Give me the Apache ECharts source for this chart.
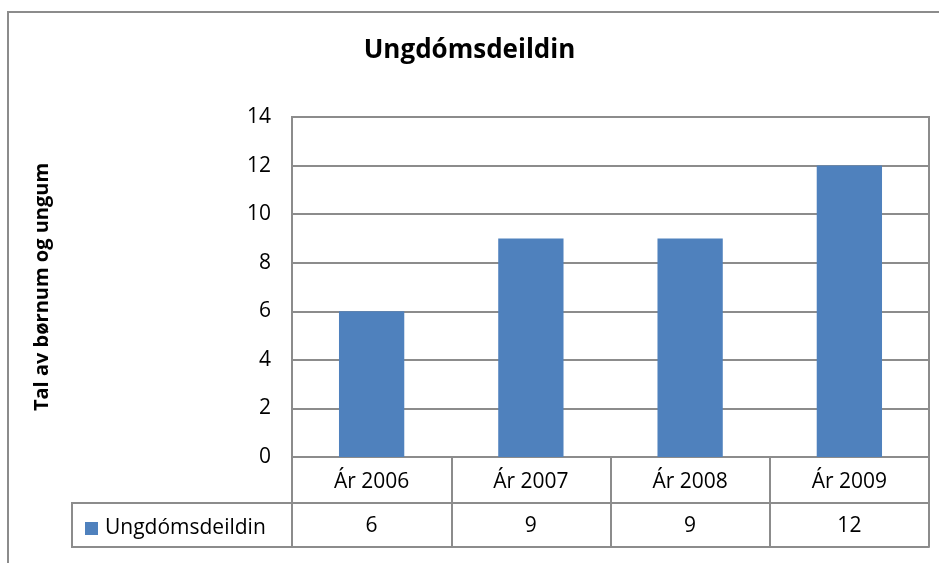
<!DOCTYPE html>
<html><head><meta charset="utf-8">
<script src="https://cdn.jsdelivr.net/npm/echarts@6/dist/echarts.min.js"></script>
<style>html,body{margin:0;padding:0;background:#fff}#c{width:939px;height:563px}</style>
</head><body><div id="c"></div>
<script>
const title = 'Ungdómsdeildin';
const yAxisName = 'Tal av børnum og ungum';
const seriesName = 'Ungdómsdeildin';
const categories = ['Ár 2006', 'Ár 2007', 'Ár 2008', 'Ár 2009'];
const values = [6, 9, 9, 12];
const yTicks = [0, 2, 4, 6, 8, 10, 12, 14];

const FONT = 'Open Sans';
const GRAY = '#8c8c8c';
const chart = echarts.init(document.getElementById('c'), null, {renderer: 'canvas'});
const gridL = 292, gridR = 10, gridT = 117, gridB = 106;
const H = 563;
const axisY = H - gridB;
const tableLeft = 72;
chart.setOption({
  animation: false,
  backgroundColor: '#fff',
  title: {text: title, left: 'center', top: 33, textStyle: {fontFamily: FONT, fontWeight: 'bold', fontSize: 26, color: '#000'}},
  legend: {data: [seriesName], left: 80, top: 513, icon: 'rect', itemWidth: 13, itemHeight: 13, itemGap: 8,
    textStyle: {fontFamily: FONT, fontSize: 21, color: '#000', padding: [0,0,0,2]}},
  grid: {left: gridL, right: gridR, top: gridT, bottom: gridB, show: true, borderColor: GRAY, borderWidth: 2, containLabel: false},
  xAxis: [
    {type: 'category', data: categories, position: 'bottom',
      axisLine: {show: true, lineStyle: {color: GRAY, width: 2}},
      axisTick: {show: true, length: 90, lineStyle: {color: GRAY, width: 2}},
      axisLabel: {fontFamily: FONT, fontSize: 21, color: '#000', margin: 15}},
    {type: 'category', data: values.map(String), position: 'bottom', offset: 46,
      axisLine: {show: true, lineStyle: {color: GRAY, width: 2}},
      axisTick: {show: false},
      axisLabel: {fontFamily: FONT, fontSize: 21, color: '#000', margin: 13}},
    {type: 'category', data: categories, position: 'bottom', offset: 90,
      axisLine: {show: true, lineStyle: {color: GRAY, width: 2}},
      axisTick: {show: false}, axisLabel: {show: false}}
  ],
  yAxis: {type: 'value', min: yTicks[0], max: yTicks[yTicks.length-1], interval: 2,
    name: yAxisName, nameLocation: 'middle', nameRotate: 90, nameGap: 240,
    nameTextStyle: {fontFamily: FONT, fontWeight: 'bold', fontSize: 20, color: '#000'},
    axisLine: {show: true, lineStyle: {color: GRAY, width: 2}},
    axisTick: {show: false},
    splitLine: {show: true, lineStyle: {color: GRAY, width: 2}},
    axisLabel: {fontFamily: FONT, fontSize: 21, color: '#000', margin: 21}},
  series: [{name: seriesName, type: 'bar', data: values, barWidth: '41%', itemStyle: {color: '#4f81bd'}}],
  graphic: [
    {type: 'rect', shape: {x: 8, y: 12, width: 950, height: 570}, style: {fill: 'none', stroke: GRAY, lineWidth: 2}, silent: true},
    {type: 'polyline', shape: {points: [[gridL, axisY + 46], [tableLeft, axisY + 46], [tableLeft, axisY + 90], [gridL, axisY + 90]]},
      style: {fill: 'none', stroke: GRAY, lineWidth: 2}, silent: true}
  ]
});
</script></body></html>
